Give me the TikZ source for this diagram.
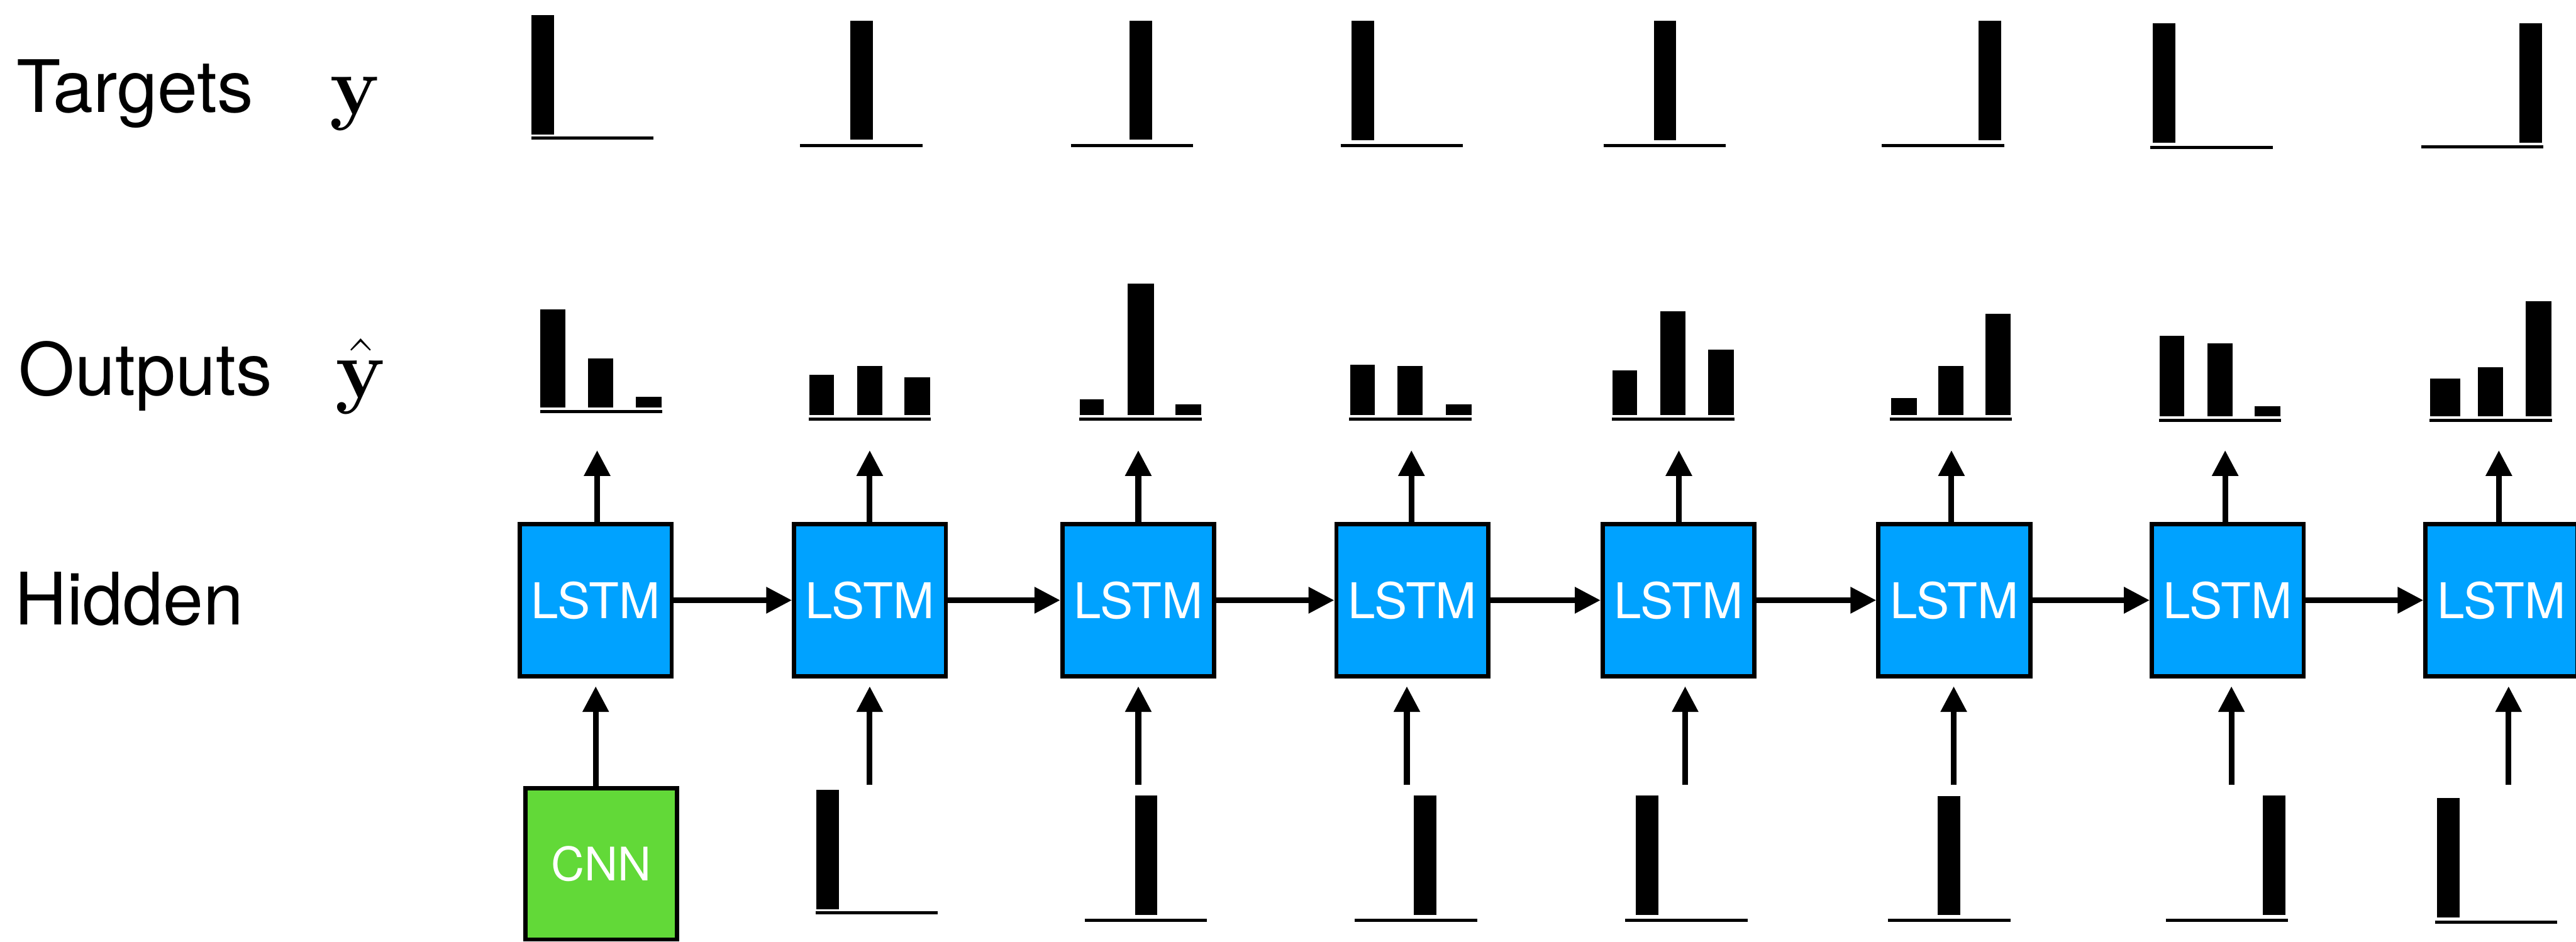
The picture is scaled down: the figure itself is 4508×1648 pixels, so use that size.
\documentclass[tikz,border=0pt]{standalone}
\usepackage{graphicx}
\usepackage[no-math]{fontspec}
\newfontfamily\heros{TeX Gyre Heros}
\usetikzlibrary{arrows.meta}
\definecolor{lstmblue}{RGB}{0,162,255}
\definecolor{cnngreen}{RGB}{98,217,56}
\newcommand{\bigsym}[1]{\fontsize{24.88}{30}\selectfont\scalebox{1.668}{$#1$}}
\tikzset{
  rowlabel/.style={anchor=base west, inner sep=0pt, font=\heros\fontsize{36}{43}\selectfont},
  symlabel/.style={anchor=base west, inner sep=0pt},
  cell/.style={draw, line width=0.075cm, fill=lstmblue, minimum width=2.655cm,
    minimum height=2.655cm, inner sep=0pt, text=white,
    font=\heros\fontsize{24.5}{29}\selectfont},
  encoder/.style={cell, fill=cnngreen, minimum width=2.645cm, minimum height=2.645cm,
    font=\heros\fontsize{23}{28}\selectfont},
  flow/.style={line width=0.1cm, -{Triangle[length=0.45cm,width=0.44cm]}},
  axisline/.style={line width=0.055cm},
}
\begin{document}
\begin{tikzpicture}[x=0.01cm, y=-0.01cm]
\useasboundingbox (0,0) rectangle (4508,1648);

% row labels
\node[rowlabel] (lt) at (28,196) {Targets};
\node[rowlabel] (lo) at (32,692) {Outputs};
\node[rowlabel] (lh) at (25,1093) {Hidden};
\node[symlabel] (sy) at (577,200) {\bigsym{\mathbf{y}}};
\node[symlabel] (shy) at (586,696) {\bigsym{\hat{\mathbf{y}}}};

% recurrent cells
\foreach \i/\cx in {1/1042.5, 2/1522.5, 3/1992, 4/2471.5, 5/2937.5, 6/3420, 7/3898.5, 8/4377.5}
  \node[cell] (h\i) at (\cx,1050.5) {LSTM};

% image encoder
\node[encoder] (cnn) at (1052,1512) {CNN};

% hidden state passed along the sequence
\foreach \i [evaluate=\i as \j using int(\i+1)] in {1,...,7}
  \draw[flow] (h\i.east) -- (h\j.west);

% cell outputs
\foreach \i/\ox in {1/1045, 2/1522, 3/1992, 4/2470, 5/2938, 6/3415, 7/3894, 8/4373} {
  \coordinate (o\i) at (\ox,788);
  \draw[flow] (o\i |- h\i.north) -- (o\i);
}

% cell inputs
\draw[flow, shorten >=0.14cm] (cnn.north -| h1.south) -- (h1.south);
\foreach \i/\ux in {2/1522, 3/1992, 4/2462, 5/2949, 6/3419, 7/3905, 8/4390} {
  \coordinate (u\i) at (\ux,1374);
  \draw[flow, shorten >=0.14cm] (u\i) -- (u\i |- h\i.south);
}

% target distributions (one-hot)
\foreach \bl/\by/\bx/\bt/\bb in {930/241.5/930/26/236, 1400/254.5/1488/36/244,
    1874/254.5/1977/36/244, 2346/255/2365/36/245, 2806/255/2894/36/245,
    3293/255/3462/36/245, 3763/258/3767/41/250, 4237/257.5/4409/41/250} {
  \fill (\bx,\bt) rectangle (\bx+39.5,\bb);
  \draw[axisline] (\bl,\by) -- ++(214,0);
}

% predicted distributions
\foreach \bl/\by in {945/720, 1415/733, 1889/733, 2361/733, 2821/733, 3307/733, 3778/736, 4252/735.5}
  \draw[axisline] (\bl,\by) -- ++(214,0);
\foreach \bx/\bw/\bt/\bb in {
    945/44/541/713, 1029/44/627/713, 1113/45/695/713,
    1416/43/656/726, 1500/44/640/726, 1583/45/660/726,
    1890/42/699/726, 1973/47/496/726, 2057/45/708/726,
    2363/43/638/726, 2446/44/640/726, 2530/45/708/726,
    2822/43/648/726, 2906/44/545/726, 2989/45/612/726,
    3309/46/697/726, 3392/44/640/726, 3475/44/549/726,
    3779/43/588/729, 3863/44/601/729, 3946/45/711/729,
    4253/52/663/729, 4336/44/643/729, 4420/45/527/729}
  \fill (\bx,\bt) rectangle (\bx+\bw,\bb);

% previous targets fed back as inputs
\foreach \bx/\bt/\bb/\bl/\by in {1429/1382/1591/1427/1597, 1986/1392/1601/1898/1611,
    2474/1392/1601/2371/1611, 2863/1392/1601/2844/1611, 3391/1393/1601/3304/1611,
    3960/1392/1601/3790/1611, 4265/1397/1606/4261/1614} {
  \fill (\bx,\bt) rectangle (\bx+39.5,\bb);
  \draw[axisline] (\bl,\by) -- ++(214,0);
}
\end{tikzpicture}
\end{document}
